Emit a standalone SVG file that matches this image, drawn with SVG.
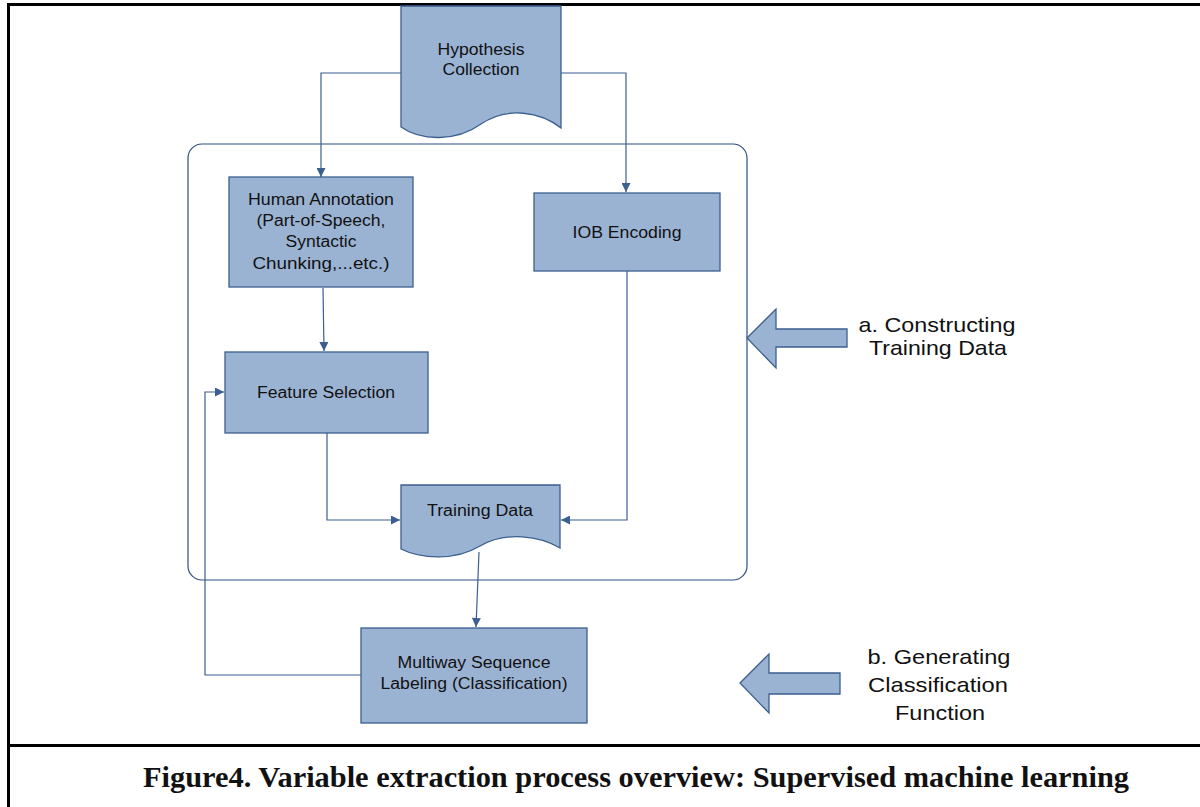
<svg xmlns="http://www.w3.org/2000/svg" width="1200" height="807" viewBox="0 0 1200 807">
  <style>
    .box { fill: #9BB3D3; stroke: #3B5F8F; stroke-width: 1.3; }
    .frame { fill: none; stroke: #000; stroke-width: 3; }
    .group { fill: none; stroke: #2F4F7F; stroke-width: 1.2; }
    .conn { fill: none; stroke: #3B5F8F; stroke-width: 1.2; }
    .lbl { font-family: "Liberation Sans", Arial, sans-serif; font-size: 16px; fill: #111; text-anchor: middle; }
    .side { font-family: "Liberation Sans", Arial, sans-serif; font-size: 21px; fill: #111; text-anchor: middle; }
    .cap { font-family: "Liberation Serif", "DejaVu Serif", serif; font-weight: bold; font-size: 29px; fill: #111; text-anchor: middle; }
  </style>
  <defs>
    <marker id="ah" viewBox="0 0 10 10" refX="10" refY="5" markerWidth="10" markerHeight="9" markerUnits="userSpaceOnUse" orient="auto">
      <path d="M0,0 L10,5 L0,10 Z" fill="#3B5F8F"/>
    </marker>
  </defs>

  <rect width="1200" height="807" fill="#fff"/>

  <!-- page frame -->
  <path class="frame" d="M1200,4.5 H8.5 V807"/>
  <path class="frame" d="M8.5,745.5 H1200"/>

  <!-- training-data stage boundary -->
  <rect class="group" x="188" y="144" width="559" height="436" rx="14"/>

  <!-- connectors -->
  <g id="connectors">
    <path class="conn" d="M401,73 H321 V177" marker-end="url(#ah)"/>
    <path class="conn" d="M561,73 H626 V192" marker-end="url(#ah)"/>
    <path class="conn" d="M323,288 L324,351" marker-end="url(#ah)"/>
    <path class="conn" d="M327,433 V520 H400" marker-end="url(#ah)"/>
    <path class="conn" d="M627,271 V520 H561" marker-end="url(#ah)"/>
    <path class="conn" d="M479,552 L476,627" marker-end="url(#ah)"/>
    <path class="conn" d="M361,675 H205 V392 H224" marker-end="url(#ah)"/>
  </g>

  <g id="hypothesis-collection">
    <path class="box" d="M401,6 H561 V128 C541,112 507,106 481,124 C456,142 421,141 401,127 Z"/>
    <text class="lbl" x="481" y="55" textLength="87" lengthAdjust="spacingAndGlyphs">Hypothesis</text>
    <text class="lbl" x="481" y="75" textLength="77" lengthAdjust="spacingAndGlyphs">Collection</text>
  </g>

  <g id="human-annotation">
    <rect class="box" x="229" y="177" width="184" height="110"/>
    <text class="lbl" x="321" y="205" textLength="146" lengthAdjust="spacingAndGlyphs">Human Annotation</text>
    <text class="lbl" x="321" y="226" textLength="129" lengthAdjust="spacingAndGlyphs">(Part-of-Speech,</text>
    <text class="lbl" x="321" y="247" textLength="71" lengthAdjust="spacingAndGlyphs">Syntactic</text>
    <text class="lbl" x="321" y="269" textLength="137" lengthAdjust="spacingAndGlyphs">Chunking,...etc.)</text>
  </g>

  <g id="iob-encoding">
    <rect class="box" x="534" y="193" width="186" height="78"/>
    <text class="lbl" x="627" y="238" textLength="109" lengthAdjust="spacingAndGlyphs">IOB Encoding</text>
  </g>

  <g id="feature-selection">
    <rect class="box" x="225" y="352" width="203" height="81"/>
    <text class="lbl" x="326" y="398" textLength="138" lengthAdjust="spacingAndGlyphs">Feature Selection</text>
  </g>

  <g id="training-data">
    <path class="box" d="M401,485 H560 V548 C540,536 506,531 480,546 C455,561 421,559 401,549 Z"/>
    <text class="lbl" x="480" y="516" textLength="106" lengthAdjust="spacingAndGlyphs">Training Data</text>
  </g>

  <g id="multiway-sequence-labeling">
    <rect class="box" x="361" y="628" width="226" height="95"/>
    <text class="lbl" x="474" y="668" textLength="153" lengthAdjust="spacingAndGlyphs">Multiway Sequence</text>
    <text class="lbl" x="474" y="689" textLength="187" lengthAdjust="spacingAndGlyphs">Labeling (Classification)</text>
  </g>

  <g id="stage-a">
    <path class="box" d="M747,338 L776,309 V329 H847 V347 H776 V368 Z"/>
    <text class="side" x="937" y="332" textLength="157" lengthAdjust="spacingAndGlyphs">a. Constructing</text>
    <text class="side" x="938" y="355" textLength="138" lengthAdjust="spacingAndGlyphs">Training Data</text>
  </g>

  <g id="stage-b">
    <path class="box" d="M740,683 L769,654 V673 H840 V694 H769 V713 Z"/>
    <text class="side" x="939" y="664" textLength="143" lengthAdjust="spacingAndGlyphs">b. Generating</text>
    <text class="side" x="938" y="692" textLength="140" lengthAdjust="spacingAndGlyphs">Classification</text>
    <text class="side" x="940" y="720" textLength="90" lengthAdjust="spacingAndGlyphs">Function</text>
  </g>

  <text class="cap" x="636" y="787" textLength="986" lengthAdjust="spacingAndGlyphs">Figure4. Variable extraction process overview: Supervised machine learning</text>
</svg>
